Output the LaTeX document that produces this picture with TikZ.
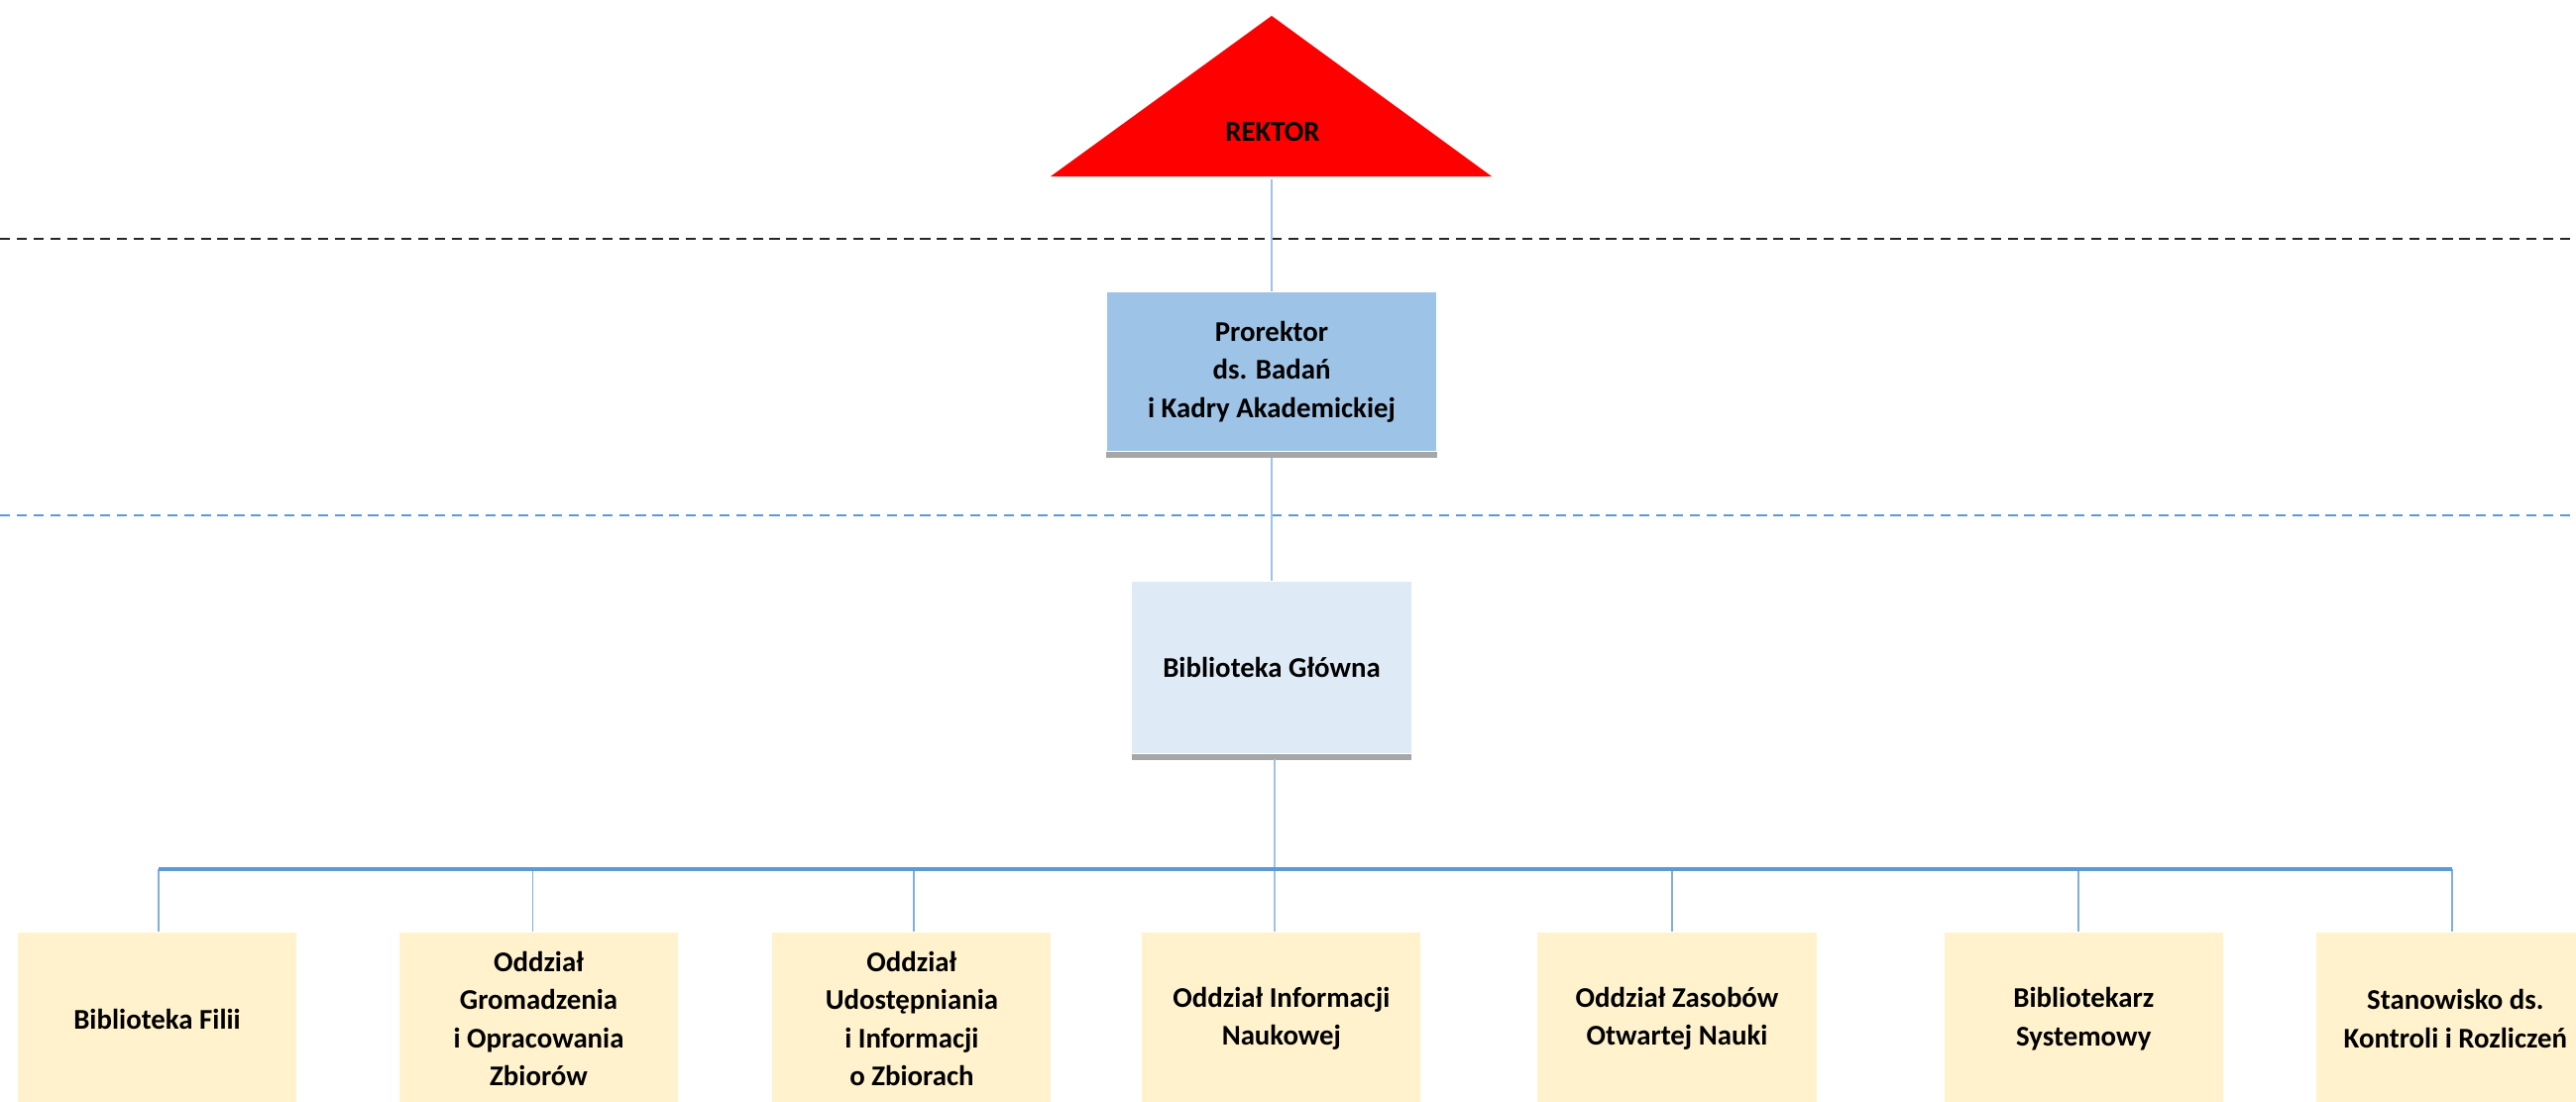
\documentclass[tikz,border=0pt]{standalone}
\usepackage{fontspec}
\setmainfont{Carlito}
\definecolor{redtri}{HTML}{FF0000}
\definecolor{probl}{HTML}{9DC3E6}
\definecolor{bglt}{HTML}{DEEBF7}
\definecolor{yel}{HTML}{FFF2CC}
\definecolor{gstrip}{HTML}{A6A6A6}
\definecolor{busc}{HTML}{5B9BD5}
\definecolor{connc}{HTML}{9DC3E6}
\definecolor{dropc}{HTML}{7FAEDF}
\begin{document}
\begin{tikzpicture}[x=0.01cm,y=-0.01cm,
  lbl/.style={font=\fontsize{8.2pt}{10.9pt}\selectfont\bfseries, align=center, text=black},
  probox/.style={lbl, fill=probl, minimum width=3.32cm, minimum height=1.60cm, inner sep=0pt},
  bgbox/.style={lbl, fill=bglt, minimum width=2.81cm, minimum height=1.73cm, inner sep=0pt},
  unitbox/.style={lbl, fill=yel, minimum width=2.81cm, minimum height=1.74cm, inner sep=0pt},
  strip/.style={fill=gstrip, draw=none},
  conn/.style={draw=connc, line width=0.6pt},
  drop/.style={draw=dropc, line width=0.55pt},
  bus/.style={draw=busc, line width=1.15pt},
  sepblack/.style={draw=black!85, line width=0.6pt, dash pattern=on 2.9pt off 1.9pt},
  sepblue/.style={draw=busc, line width=0.6pt, dash pattern=on 2.9pt off 1.9pt}
]
\clip (0,0) rectangle (2599,1112);
\fill[white] (0,0) rectangle (2599,1112);

% separators
\draw[sepblack] (0,241) -- (2599,241);
\draw[sepblue] (0,520) -- (2599,520);

% Rektor triangle
\fill[redtri] (1060,178) -- (1283,16) -- (1505,178) -- cycle;
\node[lbl] (rektor) at (1284,133) {REKTOR};
\coordinate (rbase) at (1283,181);

% Prorektor
\node[probox] (p) at (1283,375) {Prorektor\\ds. Badań\\i Kadry Akademickiej};
\fill[strip] (p.south west) rectangle ([yshift=-0.06cm]p.south east);

% Biblioteka Glowna
\node[bgbox] (bg) at (1283,673.5) {Biblioteka Główna};
\fill[strip] (bg.south west) rectangle ([yshift=-0.06cm]bg.south east);

% lower units
\node[unitbox] (b1) at (158.5,1028) {Biblioteka Filii};
\node[unitbox] (b2) at (543.5,1028) {Oddział\\Gromadzenia\\i Opracowania\\Zbiorów};
\node[unitbox] (b3) at (919.9,1028) {Oddział\\Udostępniania\\i Informacji\\o Zbiorach};
\node[unitbox] (b4) at (1292.9,1028) {Oddział Informacji\\Naukowej};
\node[unitbox] (b5) at (1692,1028) {Oddział Zasobów\\Otwartej Nauki};
\node[unitbox] (b6) at (2102.3,1028) {Bibliotekarz\\Systemowy};
\node[unitbox] (b7) at (2477.3,1028) {Stanowisko ds.\\Kontroli i Rozliczeń};

% connectors
\draw[conn] (rbase) -- (rbase |- p.north);
\draw[conn] ([yshift=-0.06cm]p.south) -- (p.south |- bg.north);
\coordinate (d1) at (159.8,876.7);
\coordinate (d2) at (537.5,876.7);
\coordinate (d3) at (921.9,876.7);
\coordinate (d4) at (1286.2,876.7);
\coordinate (d5) at (1687.1,876.7);
\coordinate (d6) at (2097.3,876.7);
\coordinate (d7) at (2473.7,876.7);
\coordinate (tr) at (1286.2,766);
\draw[conn] (tr) -- (d4);
\draw[drop] (d1) -- (d1 |- b1.north);
\draw[drop] (d2) -- (d2 |- b2.north);
\draw[drop] (d3) -- (d3 |- b3.north);
\draw[conn] (d4) -- (d4 |- b4.north);
\draw[drop] (d5) -- (d5 |- b5.north);
\draw[drop] (d6) -- (d6 |- b6.north);
\draw[drop] (d7) -- (d7 |- b7.north);
\draw[bus] (d1) -- (d7);
\end{tikzpicture}
\end{document}
